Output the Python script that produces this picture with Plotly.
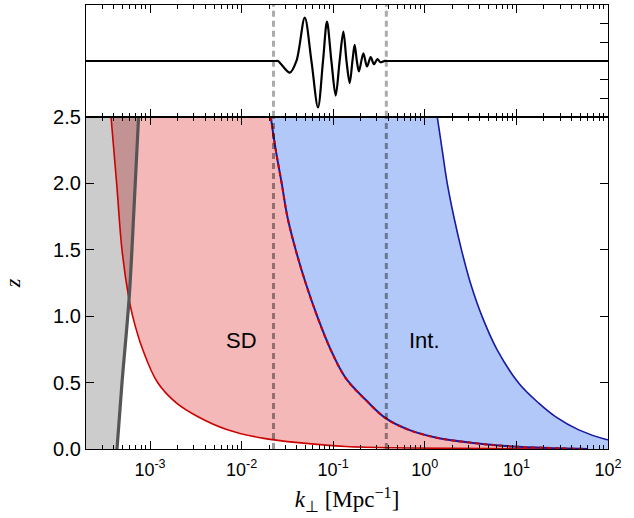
import math
import plotly.graph_objects as go

# ---------------- data ----------------
# gray line (lower k limit), z vs k
GRAY_Z = [2.5, 1.823, 1.147, 0.495, 0.0]
GRAY_K = [7.5e-4, 6.7e-4, 5.93e-4, 4.94e-4, 4.36e-4]

# red lower boundary of the SD region
RED_Z = [2.5, 2.0, 1.5, 1.147, 1.0, 0.75, 0.5, 0.345, 0.245, 0.145, 0.08, 0.044, 0.019, 0.008, 0.003, 0.0]
RED_K = [3.75e-4, 4.32e-4, 4.94e-4, 5.83e-4, 6.46e-4, 8.30e-4, 1.21e-3, 1.95e-3, 3.3e-3,
         7.0e-3, 1.75e-2, 4.7e-2, 0.137, 0.63, 5.0, 30.0]

# SD / Int. boundary
MID_Z = [2.5, 2.249, 1.999, 1.748, 1.497, 1.247, 0.996, 0.746, 0.533, 0.370, 0.232, 0.144,
         0.081, 0.044, 0.019, 0.006, 0.0]
MID_K = [0.0208, 0.0236, 0.0274, 0.0316, 0.0390, 0.0501, 0.0671, 0.0940, 0.137, 0.226,
         0.373, 0.671, 1.43, 3.58, 9.0, 29.0, 60.0]

# upper boundary of the Int. region
BLUE_Z = [2.5, 2.249, 1.999, 1.748, 1.497, 1.247, 0.996, 0.746, 0.495, 0.345, 0.244, 0.144, 0.074, 0.06]
BLUE_K = [1.368, 1.549, 1.758, 2.075, 2.518, 3.155, 4.227, 6.166, 10.62, 17.54, 26.67, 47.97, 93.5, 130.0]

# vertical dashed markers
VLINE_K = [0.0223, 0.38]

# wiggle in the top panel (flat outside the oscillating part)
FLAT_LEFT_K = [2e-4, 0.0250]
FLAT_RIGHT_K = [0.3648, 100.0]
WAVE_K = [0.0240, 0.0250, 0.0336, 0.0397, 0.0489, 0.0578, 0.0682, 0.0774, 0.0855, 0.0955, 0.1064,
          0.1175, 0.1291, 0.1396, 0.1514, 0.1622, 0.1714, 0.1811, 0.1910, 0.2133, 0.2339,
          0.2564, 0.2786, 0.3034, 0.3273, 0.3648, 0.3800]
WAVE_Y = [0.0, 0.0, -0.63, 0.0, 2.32, 0.0, -2.50, 0.0, 2.11, 0.0, -1.86,
          0.0, 1.57, 0.0, -1.19, 0.0, 0.86, 0.0, -0.57, 0.41, -0.30,
          0.20, -0.18, 0.10, -0.07, 0.0, 0.0]

X_MIN, X_MAX = 2e-4, 100.0
Z_MAX = 2.5
X_TICKS = [1e-3, 1e-2, 1e-1, 1e0, 1e1, 1e2]
X_TICKTEXT = ["10<sup>-3</sup>", "10<sup>-2</sup>", "10<sup>-1</sup>", "10<sup>0</sup>",
              "10<sup>1</sup>", "10<sup>2</sup>"]
Y_TICKS = [0.0, 0.5, 1.0, 1.5, 2.0, 2.5]
Y_TICKTEXT = ["0.0", "0.5", "1.0", "1.5", "2.0", "2.5"]

# ---------------- styles ----------------
PINK = "#f4b8b8"
LBLUE = "#b1c8f9"
RED = "#cc0000"
NAVY = "#1a1aa0"
GRAYFILL = "rgba(0,0,0,0.2)"
DASHCOL = "rgba(0,0,0,0.4)"
SANS = "Liberation Sans, Arial"
SERIF = "Liberation Serif, Times New Roman"

minor_vals = []
for e in range(-4, 2):
    for m in range(2, 10):
        v = m * 10 ** e
        if X_MIN < v < X_MAX:
            minor_vals.append(v)

fig = go.Figure()

# SD region (pink)
fig.add_trace(go.Scatter(x=RED_K + MID_K[::-1], y=RED_Z + MID_Z[::-1], fill="toself",
                         fillcolor=PINK, line=dict(width=0), mode="lines", hoverinfo="skip"))
# Int region (blue)
fig.add_trace(go.Scatter(x=MID_K + [X_MAX * 2] + BLUE_K[::-1], y=MID_Z + [0.0] + BLUE_Z[::-1],
                         fill="toself", fillcolor=LBLUE, line=dict(width=0), mode="lines",
                         hoverinfo="skip"))
# gray excluded region
fig.add_trace(go.Scatter(x=[X_MIN * 0.5] + GRAY_K + [X_MIN * 0.5], y=[Z_MAX] + GRAY_Z + [0.0],
                         fill="toself", fillcolor=GRAYFILL, line=dict(width=0), mode="lines",
                         hoverinfo="skip"))
# boundary lines
fig.add_trace(go.Scatter(x=RED_K, y=RED_Z, mode="lines", line=dict(color=RED, width=1.6, shape="spline")))
fig.add_trace(go.Scatter(x=BLUE_K, y=BLUE_Z, mode="lines", line=dict(color=NAVY, width=1.6, shape="spline")))
fig.add_trace(go.Scatter(x=MID_K, y=MID_Z, mode="lines", line=dict(color=NAVY, width=2, shape="spline")))
fig.add_trace(go.Scatter(x=MID_K, y=MID_Z, mode="lines",
                         line=dict(color=RED, width=2, dash="4px,4px", shape="spline")))
fig.add_trace(go.Scatter(x=GRAY_K, y=GRAY_Z, mode="lines", line=dict(color="#555555", width=3.2, shape="spline")))
for k in VLINE_K:
    fig.add_trace(go.Scatter(x=[k, k], y=[0, Z_MAX], mode="lines",
                             line=dict(color=DASHCOL, width=3, dash="6px,4px")))

# top panel
for k in VLINE_K:
    fig.add_trace(go.Scatter(x=[k, k], y=[-3, 3], mode="lines", xaxis="x2", yaxis="y2",
                             line=dict(color="rgba(0,0,0,0.33)", width=3, dash="6px,4px")))
for fk in (FLAT_LEFT_K, FLAT_RIGHT_K):
    fig.add_trace(go.Scatter(x=fk, y=[0.0, 0.0], mode="lines", xaxis="x2", yaxis="y2",
                             line=dict(color="black", width=2)))
fig.add_trace(go.Scatter(x=WAVE_K, y=WAVE_Y, mode="lines", xaxis="x2", yaxis="y2",
                         line=dict(color="black", width=2.2, shape="spline", smoothing=0.9)))

# annotations
fig.add_annotation(x=-2.0, y=0.82, xref="x", yref="y", text="SD", showarrow=False,
                   font=dict(family=SANS, size=22, color="black"))
fig.add_annotation(x=-0.0, y=0.82, xref="x", yref="y", text="Int.", showarrow=False,
                   font=dict(family=SANS, size=22, color="black"))

xr = [math.log10(X_MIN), math.log10(X_MAX)]
split = 332.2 / 444.0

common_x = dict(type="log", range=xr, showline=True, linecolor="black", linewidth=1.3,
                mirror="ticks", ticks="inside", ticklen=8, tickwidth=1.3, tickcolor="black",
                tickvals=X_TICKS, showgrid=False, zeroline=False, automargin=False,
                minor=dict(tickvals=minor_vals, ticks="inside", ticklen=4, tickwidth=1.1,
                           tickcolor="black", showgrid=False))

fig.update_layout(
    width=634, height=518,
    margin=dict(l=86, r=26, t=5, b=69, autoexpand=False),
    paper_bgcolor="white", plot_bgcolor="white",
    showlegend=False,
    font=dict(family=SANS, size=18, color="black"),
    xaxis=dict(**common_x, domain=[0, 1], anchor="y", ticktext=X_TICKTEXT,
               tickfont=dict(size=18), ticklabelstandoff=4,
               title=dict(text="<i>k</i><sub>⊥</sub> [Mpc<sup>−1</sup>]",
                          font=dict(family=SERIF, size=23), standoff=12)),
    yaxis=dict(domain=[0, split], anchor="x", range=[0, Z_MAX], showline=True, linecolor="black",
               linewidth=1.3, mirror="ticks", ticks="inside", ticklen=8, tickwidth=1.3,
               tickcolor="black", tickvals=Y_TICKS, ticktext=Y_TICKTEXT, showgrid=False,
               zeroline=False, tickfont=dict(size=20), automargin=False,
               title=dict(text="<i>z</i>", font=dict(family=SERIF, size=22), standoff=27)),
    xaxis2=dict(**common_x, domain=[0, 1], anchor="y2", showticklabels=False, matches="x"),
    yaxis2=dict(domain=[split, 1], anchor="x2", range=[-3, 3], showline=True, linecolor="black",
                linewidth=1.3, mirror=True, side="right", ticks="inside", ticklen=8, tickwidth=1.3,
                tickcolor="black", tickvals=[-2, -1, 0, 1, 2], showticklabels=False,
                showgrid=False, zeroline=False, automargin=False),
)

fig.write_html("out.html", config={"displayModeBar": False},
               post_script="document.body.style.margin='0';")
